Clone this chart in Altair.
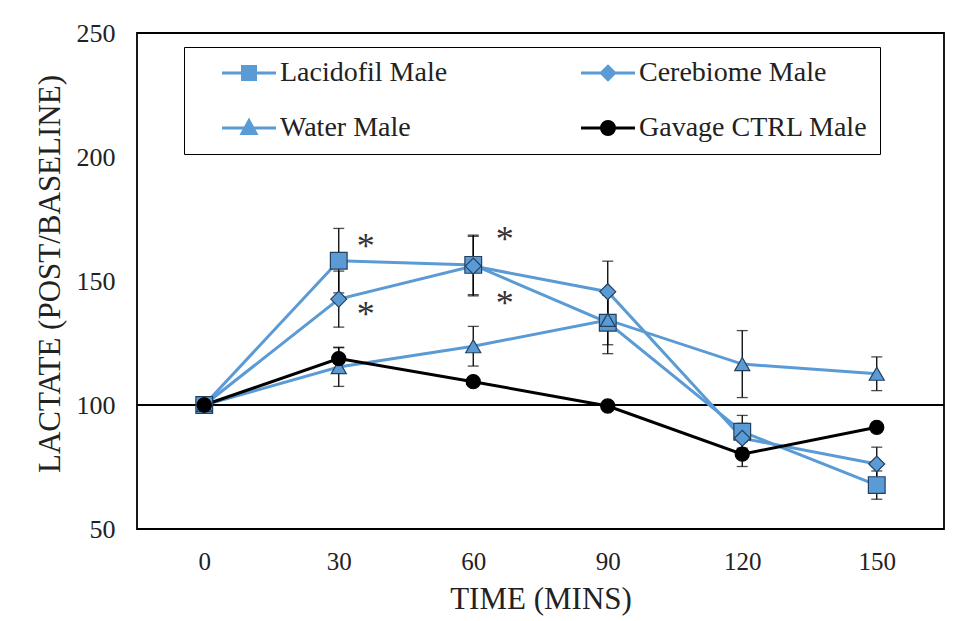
import altair as alt
import pandas as pd

# ---------------- data ----------------
times = [0, 30, 60, 90, 120, 150]
series_names = ["Lacidofil Male", "Cerebiome Male", "Water Male", "Gavage CTRL Male"]

lacidofil = [100, 158.2, 156.5, 133.2, 89.2, 67.7]
lacidofil_err = [0, 13.0, 12.0, 12.5, 6.6, 5.7]
cerebiome = [100, 142.7, 156.0, 145.7, 86.6, 76.2]
cerebiome_err = [0, 11.3, 12.0, 12.3, 6.0, 6.8]
water = [100, 115.3, 123.7, 134.3, 116.5, 112.6]
water_err = [0, 7.8, 8.0, 10.0, 13.5, 6.8]
gavage = [100, 118.7, 109.4, 99.6, 80.2, 91.0]
gavage_err = [0, 4.6, 1.5, 1.0, 5.0, 1.5]

star_time = [36, 36, 67, 67]
star_value = [166.5, 139.0, 169.2, 143.7]
star_text = ["*", "*", "*", "*"]

ref_value = [100]
y_ticks = [50, 100, 150, 200, 250]

# ---------------- tables ----------------
rows = []
for name, vals, errs in zip(series_names,
                            [lacidofil, cerebiome, water, gavage],
                            [lacidofil_err, cerebiome_err, water_err, gavage_err]):
    for t, v, e in zip(times, vals, errs):
        rows.append({"series": name, "time": t, "value": v,
                     "lo": v - e, "hi": v + e, "err": e})
df = pd.DataFrame(rows)
stars = pd.DataFrame({"time": star_time, "value": star_value, "label": star_text})
ref = pd.DataFrame({"ref": ref_value})

# ---------------- styles ----------------
SERIF = "Liberation Serif"
BLUE = "#5B9BD5"
TXT = "#222222"
line_colors = [BLUE, BLUE, BLUE, "#000000"]
marker_fills = [BLUE, BLUE, BLUE, "#000000"]
marker_strokes = ["#24405f", "#24405f", "#24405f", "#000000"]
marker_shapes = ["square", "diamond", "triangle-up", "circle"]
marker_sizes = [280, 200, 300, 280]

# legend symbols: short line segment with the series marker on it
_pre = "M-0.915,0H0.915"
legend_paths = [
    _pre + "M-0.22,-0.22H0.22V0.22H-0.22Z",
    _pre + "M0,-0.225L0.225,0L0,0.225L-0.225,0Z",
    _pre + "M0,-0.25L0.237,0.183L-0.237,0.183Z",
    _pre + "M0.22,0A0.22,0.22,0,1,1,-0.22,0A0.22,0.22,0,1,1,0.22,0Z",
]

x_scale = alt.Scale(domain=[-15, 165], nice=False, zero=False)
y_scale = alt.Scale(domain=[50, 250], nice=False, zero=False)
X_TITLE = "TIME (MINS)"
Y_TITLE = "LACTATE (POST/BASELINE)"

x_axis = alt.Axis(values=times, grid=False, ticks=False, domain=False,
                  labelFont=SERIF, labelFontSize=25, labelColor=TXT,
                  labelPadding=32, labelBaseline="middle", labelFlush=False,
                  titleFont=SERIF, titleFontSize=31, titleFontWeight="normal",
                  titleColor=TXT, titleY=55, titleBaseline="top")
y_axis = alt.Axis(values=y_ticks, grid=False, ticks=False, domain=False,
                  labelFont=SERIF, labelFontSize=26, labelColor=TXT,
                  labelPadding=22, labelFlush=False,
                  titleFont=SERIF, titleFontSize=31, titleFontWeight="normal",
                  titleColor=TXT, titleX=-87, titleY=240.5, titleBaseline="middle")


def X(field="time"):
    return alt.X(f"{field}:Q", scale=x_scale, axis=x_axis, title=X_TITLE)


def Y(field="value"):
    return alt.Y(f"{field}:Q", scale=y_scale, axis=y_axis, title=Y_TITLE)


base = alt.Chart(df)

rule100 = alt.Chart(ref).mark_rule(color="black", strokeWidth=2).encode(y=Y("ref"))

lines = base.mark_line(strokeWidth=3).encode(
    x=X(), y=Y(),
    stroke=alt.Stroke("series:N", scale=alt.Scale(domain=series_names, range=line_colors), legend=None),
)

errs = base.transform_filter("datum.err > 0")
err_rule = errs.mark_rule(color="black", strokeWidth=1.3).encode(x=X(), y=Y("lo"), y2="hi:Q")
cap_lo = errs.mark_tick(orient="horizontal", size=11, thickness=1.3, color="black").encode(x=X(), y=Y("lo"))
cap_hi = errs.mark_tick(orient="horizontal", size=11, thickness=1.3, color="black").encode(x=X(), y=Y("hi"))

points = base.mark_point(filled=True, opacity=1, strokeWidth=1.2).encode(
    x=X(), y=Y(),
    shape=alt.Shape("series:N", scale=alt.Scale(domain=series_names, range=marker_shapes), legend=None),
    fill=alt.Fill("series:N", scale=alt.Scale(domain=series_names, range=marker_fills), legend=None),
    stroke=alt.Stroke("series:N", scale=alt.Scale(domain=series_names, range=marker_strokes), legend=None),
    size=alt.Size("series:N", scale=alt.Scale(domain=series_names, range=marker_sizes), legend=None),
)

star_layer = alt.Chart(stars).mark_text(font=SERIF, fontSize=36, color="#333333", dy=7,
                                        baseline="middle").encode(
    x=X(), y=Y(), text="label:N")

legend = alt.Legend(orient="none", legendX=47, legendY=14, columns=2, direction="horizontal",
                    title=None,
                    labelFont=SERIF, labelFontSize=28, labelColor=TXT, labelLimit=500,
                    labelOffset=0, symbolSize=3481, symbolStrokeWidth=3, symbolOffset=22,
                    clipHeight=28, rowPadding=27, columnPadding=107, padding=12,
                    strokeColor="black", fillColor="white")

legend_layer = base.transform_filter("datum.time < 0").mark_point(
    filled=True, opacity=1, size=3481, strokeWidth=3).encode(
    x=X(), y=Y(),
    shape=alt.Shape("series:N", scale=alt.Scale(domain=series_names, range=legend_paths), legend=legend),
    fill=alt.Fill("series:N", scale=alt.Scale(domain=series_names, range=line_colors), legend=legend),
    stroke=alt.Stroke("series:N", scale=alt.Scale(domain=series_names, range=line_colors), legend=legend),
)

chart = alt.layer(rule100, lines, err_rule, cap_lo, cap_hi, points, star_layer, legend_layer).resolve_scale(
    shape="independent", fill="independent", stroke="independent", size="independent"
).properties(
    width=807, height=496,
    padding={"left": 129, "top": 25, "right": 14, "bottom": 92},
    autosize=alt.AutoSizeParams(type="none"),
).configure_view(stroke="black", strokeWidth=1.8)

chart.save("out.html", embed_options={"renderer": "svg", "actions": False})
